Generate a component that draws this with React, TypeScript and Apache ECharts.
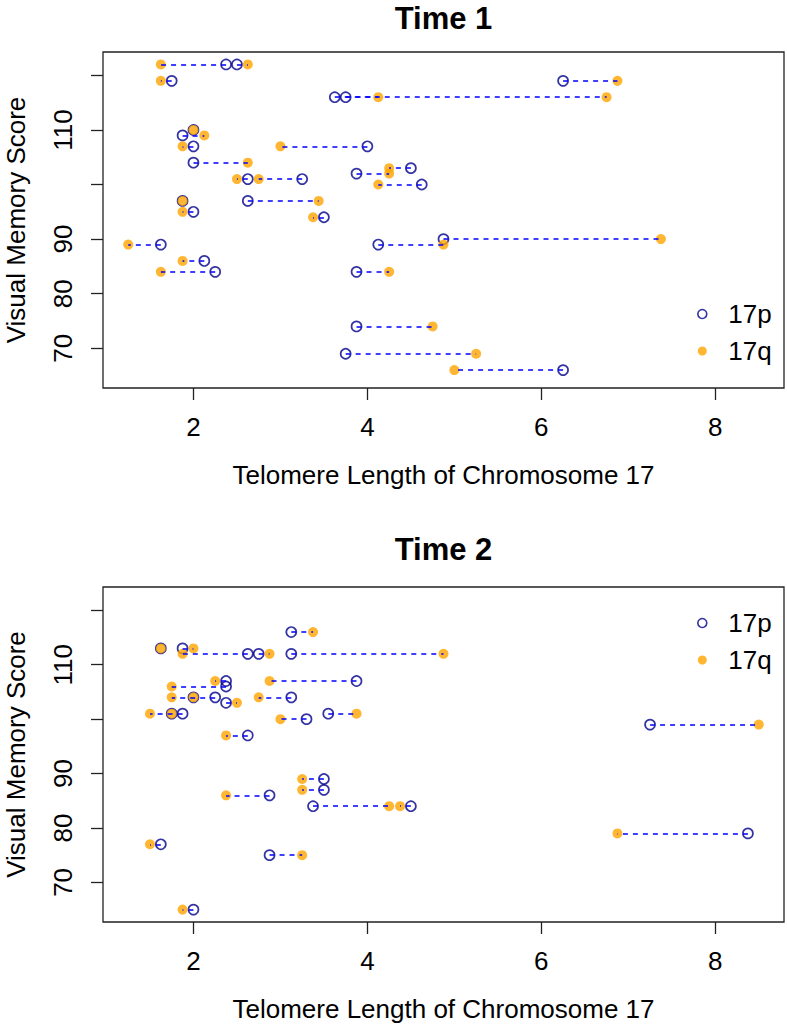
import React, { useEffect, useRef } from "react";
import * as echarts from "echarts";

// Time 1: visual memory score with 17p / 17q telomere length per subject
const t1Score = [122, 122, 119, 119, 116, 116, 110, 109, 107, 107, 104, 103, 102, 101, 101, 100, 97, 97, 95, 94, 90, 89, 89, 86, 84, 84, 74, 69, 66];
const t1P = [2.375, 2.5, 1.75, 6.25, 3.625, 3.75, 2.0, 1.875, 2.0, 4.0, 2.0, 4.5, 3.875, 2.625, 3.25, 4.625, 1.875, 2.625, 2.0, 3.5, 4.875, 1.625, 4.125, 2.125, 2.25, 3.875, 3.875, 3.75, 6.25];
const t1Q = [1.625, 2.625, 1.625, 6.875, 6.75, 4.125, 2.0, 2.125, 1.875, 3.0, 2.625, 4.25, 4.25, 2.5, 2.75, 4.125, 1.875, 3.44, 1.875, 3.375, 7.375, 1.25, 4.875, 1.875, 1.625, 4.25, 4.75, 5.25, 5.0];

// Time 2
const t2Score = [116, 113, 113, 112, 112, 112, 107, 107, 106, 104, 104, 104, 103, 101, 101, 101, 100, 99, 97, 89, 87, 86, 84, 84, 79, 77, 75, 65];
const t2P = [3.125, 1.625, 1.875, 2.625, 2.75, 3.125, 2.375, 3.875, 2.375, 2.0, 2.25, 3.125, 2.375, 1.75, 1.875, 3.55, 3.3, 7.25, 2.625, 3.5, 3.5, 2.875, 3.375, 4.5, 8.375, 1.625, 2.875, 2.0];
const t2Q = [3.375, 1.625, 2.0, 1.875, 2.875, 4.875, 2.25, 2.875, 1.75, 2.0, 1.75, 2.75, 2.5, 1.75, 1.5, 3.875, 3.0, 8.5, 2.375, 3.25, 3.25, 2.375, 4.25, 4.375, 6.875, 1.5, 3.25, 1.875];

const xTicks = [2, 4, 6, 8];
const yTicks = [70, 80, 90, 100, 110, 120];
const yLabels = [70, 80, 90, 110];
const titles = ["Time 1", "Time 2"];
const seriesNames = ["17p", "17q"];
const xTitle = "Telomere Length of Chromosome 17";
const yTitle = "Visual Memory Score";

const FONT = "'Liberation Sans', Arial, Helvetica, sans-serif";
const P_COLOR = "#00008B";
const Q_COLOR = "#FFA500";
const LINE_COLOR = "#0000FF";

const allX = [...t1P, ...t1Q, ...t2P, ...t2Q];
const allY = [...t1Score, ...t2Score];
const xMinD = Math.min(...allX), xMaxD = Math.max(...allX);
const yMinD = Math.min(...allY), yMaxD = Math.max(...allY);
const xPad = (xMaxD - xMinD) * 0.04;
const yPad = (yMaxD - yMinD) * 0.04;

const GRID_LEFT = 103;
const GRID_W = 681;
const grids = [
  { left: GRID_LEFT, top: 52, width: GRID_W, height: 336 },
  { left: GRID_LEFT, top: 587, width: GRID_W, height: 335 },
];

export default function App() {
  const ref = useRef<HTMLDivElement>(null);
  useEffect(() => {
    if (!ref.current) return;
    const chart = echarts.init(ref.current, undefined, { renderer: "svg" });
    const panels = [
      { s: t1Score, p: t1P, q: t1Q },
      { s: t2Score, p: t2P, q: t2Q },
    ];
    const series: any[] = [];
    panels.forEach((pn, i) => {
      series.push({
        type: "scatter",
        name: seriesNames[0],
        xAxisIndex: i,
        yAxisIndex: i,
        symbol: "circle",
        symbolSize: 10,
        z: 2,
        itemStyle: { color: "rgba(0,0,0,0)", borderColor: P_COLOR, borderWidth: 1.7 },
        data: pn.p.map((x, k) => [x, pn.s[k]]),
      });
      series.push({
        type: "scatter",
        name: seriesNames[1],
        xAxisIndex: i,
        yAxisIndex: i,
        symbol: "circle",
        symbolSize: 10,
        z: 3,
        itemStyle: { color: Q_COLOR, borderWidth: 0 },
        data: pn.q.map((x, k) => [x, pn.s[k]]),
      });
      series.push({
        type: "lines",
        coordinateSystem: "cartesian2d",
        xAxisIndex: i,
        yAxisIndex: i,
        z: 4,
        silent: true,
        lineStyle: { color: LINE_COLOR, width: 1.6, type: [5, 5], opacity: 1 },
        data: pn.p.map((x, k) => ({ coords: [[x, pn.s[k]], [pn.q[k], pn.s[k]]] })),
      });
    });

    const axisTextStyle = { color: "#000", fontSize: 26, fontFamily: FONT };

    chart.setOption({
      animation: false,
      backgroundColor: "#fff",
      grid: grids.map((g) => ({
        ...g,
        show: true,
        containLabel: false,
        outerBoundsMode: "none",
        borderColor: "#222",
        borderWidth: 1.3,
        backgroundColor: "transparent",
      })),
      xAxis: grids.map((_, i) => ({
        type: "value",
        gridIndex: i,
        min: xMinD - xPad,
        max: xMaxD + xPad,
        name: xTitle,
        nameLocation: "middle",
        nameGap: 74,
        nameTextStyle: axisTextStyle,
        axisLine: { show: false },
        splitLine: { show: false },
        axisTick: { show: true, inside: false, length: 12, customValues: xTicks, lineStyle: { color: "#222", width: 1.3 } },
        axisLabel: { ...axisTextStyle, margin: 26, customValues: xTicks },
      })),
      yAxis: grids.map((_, i) => ({
        type: "value",
        gridIndex: i,
        min: yMinD - yPad,
        max: yMaxD + yPad,
        name: yTitle,
        nameLocation: "middle",
        nameGap: 74,
        nameRotate: 90,
        nameTextStyle: { ...axisTextStyle, lineHeight: 26 },
        axisLine: { show: false },
        splitLine: { show: false },
        axisTick: { show: true, inside: false, length: 12, customValues: yTicks, lineStyle: { color: "#222", width: 1.3 } },
        axisLabel: { ...axisTextStyle, margin: 27, rotate: 90, customValues: yLabels },
      })),
      legend: [
        { top: 301, left: 697 },
        { top: 610, left: 697 },
      ].map((pos) => ({
        ...pos,
        orient: "vertical",
        padding: 0,
        itemGap: 11,
        itemWidth: 10,
        itemHeight: 9,
        selectedMode: false,
        textStyle: { color: "#000", fontSize: 26, fontFamily: FONT, padding: [0, 0, 0, 16] },
        data: [
          { name: seriesNames[0], icon: "circle", itemStyle: { color: "#fff", borderColor: P_COLOR, borderWidth: 1.6 } },
          { name: seriesNames[1], icon: "circle", itemStyle: { color: Q_COLOR, borderWidth: 0 } },
        ],
      })),
      graphic: titles.map((t, i) => ({
        type: "text",
        x: GRID_LEFT + GRID_W / 2,
        y: i === 0 ? 18 : 549,
        style: {
          text: t,
          fill: "#000",
          font: `bold 31px ${FONT}`,
          textAlign: "center",
          textVerticalAlign: "middle",
        },
      })),
      series,
    });
    return () => chart.dispose();
  }, []);
  return <div ref={ref} style={{ position: "absolute", left: 0, top: 0, width: 787, height: 1027 }} />;
}
